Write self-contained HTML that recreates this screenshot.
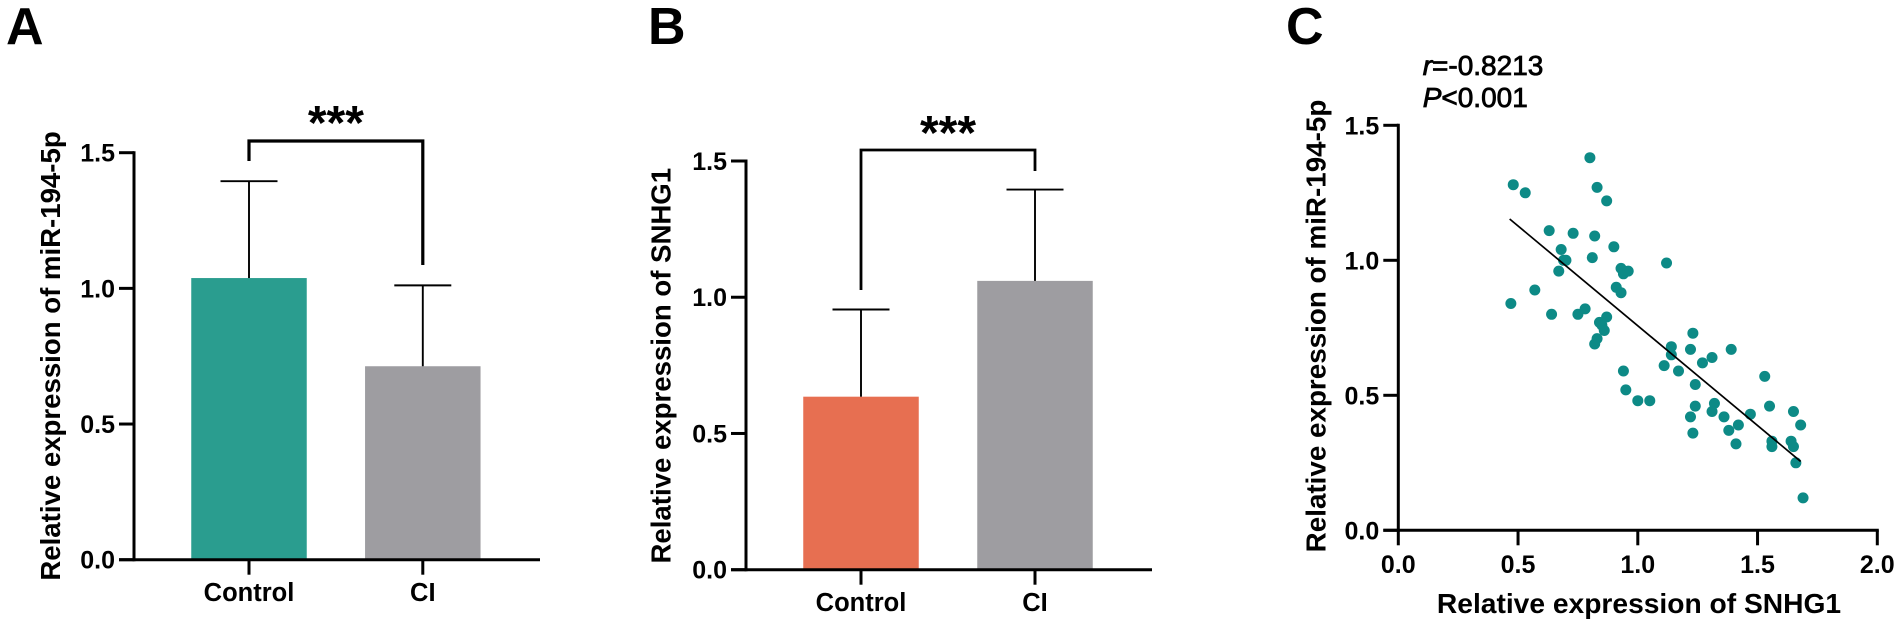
<!DOCTYPE html>
<html>
<head>
<meta charset="utf-8">
<title>Relative expression charts</title>
<style>
html,body{margin:0;padding:0;background:#fff;width:1901px;height:626px;overflow:hidden}
svg{display:block;font-family:"Liberation Sans",Arial,sans-serif}
text{fill:#000}
</style>
</head>
<body>
<svg id="fig" width="1901" height="626" viewBox="0 0 1901 626" xmlns="http://www.w3.org/2000/svg"></svg>
<script>
// Panel A
const categoriesA = ['Control', 'CI'];
const meansA = [1.038, 0.713];
const errorsA = [0.357, 0.298];
const yTicksA = ['0.0', '0.5', '1.0', '1.5'];
// Panel B
const categoriesB = ['Control', 'CI'];
const meansB = [0.635, 1.06];
const errorsB = [0.32, 0.335];
const yTicksB = ['0.0', '0.5', '1.0', '1.5'];
// Panel C
const xTicksC = ['0.0', '0.5', '1.0', '1.5', '2.0'];
const yTicksC = ['0.0', '0.5', '1.0', '1.5'];
const scatterX = [0.47,0.48,0.53,0.57,0.63,0.64,0.67,0.68,0.69,0.70,0.73,0.75,0.78,0.80,0.83,0.82,0.81,0.83,0.82,0.84,0.85,0.87,0.86,0.87,0.90,0.91,0.93,0.93,0.94,0.96,0.94,0.95,1.00,1.05,1.12,1.11,1.14,1.14,1.17,1.22,1.23,1.22,1.24,1.23,1.24,1.27,1.31,1.32,1.31,1.36,1.38,1.39,1.41,1.42,1.47,1.53,1.55,1.56,1.56,1.64,1.65,1.65,1.66,1.68,1.69];
const scatterY = [0.84,1.28,1.25,0.89,1.11,0.80,0.96,1.04,1.00,1.00,1.10,0.80,0.82,1.38,1.27,1.09,1.01,0.71,0.69,0.77,0.76,0.79,0.74,1.22,1.05,0.90,0.88,0.97,0.95,0.96,0.59,0.52,0.48,0.48,0.99,0.61,0.68,0.65,0.59,0.67,0.73,0.42,0.46,0.36,0.54,0.62,0.64,0.47,0.44,0.42,0.37,0.67,0.32,0.39,0.43,0.57,0.46,0.33,0.31,0.33,0.31,0.44,0.25,0.39,0.12];
const fitX = [0.465, 1.68];
const fitY = [1.153, 0.255];

const svg = document.getElementById('fig');
const NS = 'http://www.w3.org/2000/svg';

function make(tag, attrs, name, txt) {
  const el = document.createElementNS(NS, tag);
  for (const k in attrs) el.setAttribute(k, attrs[k]);
  
  
  if (txt !== undefined) el.textContent = txt;
  svg.appendChild(el);
  return el;
}
function line(x1, y1, x2, y2, w, name) {
  return make('line', {x1, y1, x2, y2, stroke: '#000', 'stroke-width': w}, name);
}
function label(x, y, s, size, anchor, name, extra) {
  return make('text', Object.assign({x, y, 'font-size': size, 'font-weight': 'bold', 'text-anchor': anchor}, extra || {}), name, s);
}
function yScale(y0, y15) { return v => y0 + (y15 - y0) * v / 1.5; }

function barPanel(cfg) {
  const y = yScale(cfg.y0, cfg.y15);
  const ax = cfg.axisX;
  // bars
  cfg.categories.forEach((c, i) => {
    const cx = cfg.centers[i];
    const key = c.toLowerCase();
    make('rect', {x: cx - cfg.barW / 2, y: y(cfg.means[i]), width: cfg.barW, height: cfg.y0 - y(cfg.means[i]), fill: cfg.colors[i]}, cfg.id + '-bar-' + key);
    const top = y(cfg.means[i] + cfg.errors[i]);
    line(cx, y(cfg.means[i]), cx, top, 1.9, cfg.id + '-error-stem-' + key);
    line(cx - 28.5, top, cx + 28.5, top, 1.9, cfg.id + '-error-cap-' + key);
    line(cx, cfg.y0, cx, cfg.y0 + 15, 3, cfg.id + '-x-tick-' + key);
    label(cx, cfg.catBase, c, 25.5, 'middle', cfg.id + '-x-label-' + key);
  });
  // axes
  line(ax, cfg.y15 - 1.5, ax, cfg.y0 + 1.5, 3, cfg.id + '-y-axis');
  line(ax - 15, cfg.y0, cfg.xEnd, cfg.y0, 3, cfg.id + '-x-axis');
  cfg.yTicks.forEach(t => {
    const yy = y(parseFloat(t));
    line(ax - 15, yy, ax, yy, 3, cfg.id + '-y-tick-' + t);
    label(ax - 19, yy + 9, t, 25, 'end', cfg.id + '-y-tick-label-' + t);
  });
  // bracket
  const b = cfg.bracket;
  make('polyline', {points: `${cfg.centers[0]},${b.left} ${cfg.centers[0]},${b.top} ${cfg.centers[1]},${b.top} ${cfg.centers[1]},${b.right}`, fill: 'none', stroke: '#000', 'stroke-width': b.w}, cfg.id + '-significance-bracket');
  label((cfg.centers[0] + cfg.centers[1]) / 2, b.starBase, '***', 48, 'middle', cfg.id + '-significance-stars');
  // y title
  label(0, 0, cfg.title, cfg.titleSize, 'middle', cfg.id + '-y-axis-title', {transform: `translate(${cfg.titleX},${cfg.titleY}) rotate(-90)`});
  // panel letter
  label(cfg.letterX, 44, cfg.letter, 52, 'start', cfg.id + '-panel-letter');
}

barPanel({
  id: 'a', letter: 'A', letterX: 6, axisX: 134, xEnd: 540, y0: 559.7, y15: 152.7,
  centers: [249, 422.8], barW: 115.5, colors: ['#2a9d8f', '#9e9da1'],
  categories: categoriesA, means: meansA, errors: errorsA, yTicks: yTicksA,
  catBase: 601, title: 'Relative expression of miR-194-5p', titleSize: 27.6, titleX: 60, titleY: 356,
  bracket: {left: 161, top: 141, right: 265, w: 3.2, starBase: 139}
});
barPanel({
  id: 'b', letter: 'B', letterX: 648, axisX: 746, xEnd: 1152, y0: 569.7, y15: 161,
  centers: [861, 1035], barW: 115.5, colors: ['#e76f51', '#9e9da1'],
  categories: categoriesB, means: meansB, errors: errorsB, yTicks: yTicksB,
  catBase: 611, title: 'Relative expression of SNHG1', titleSize: 27.6, titleX: 670.7, titleY: 365.7,
  bracket: {left: 290, top: 150, right: 171, w: 2.8, starBase: 149}
});

// Panel C scatter
const cx0 = 1398.3, cxUnit = 239.5, cy0 = 530.3, cy15 = 125.3;
const sx = v => cx0 + cxUnit * v;
const sy = yScale(cy0, cy15);
line(cx0, cy15 - 1.5, cx0, cy0 + 1.5, 3, 'c-y-axis');
line(cx0 - 15, cy0, sx(2) + 1.5, cy0, 3, 'c-x-axis');
yTicksC.forEach(t => {
  const yy = sy(parseFloat(t));
  line(cx0 - 15, yy, cx0, yy, 3, 'c-y-tick-' + t);
  label(cx0 - 19, yy + 9, t, 25, 'end', 'c-y-tick-label-' + t);
});
xTicksC.forEach(t => {
  const xx = sx(parseFloat(t));
  line(xx, cy0, xx, cy0 + 15, 3, 'c-x-tick-' + t);
  label(xx, 573, t, 25, 'middle', 'c-x-tick-label-' + t);
});
scatterX.forEach((v, i) => {
  make('circle', {cx: sx(v), cy: sy(scatterY[i]), r: 5.5, fill: '#0d8a86'}, 'c-point');
});
line(sx(fitX[0]), sy(fitY[0]), sx(fitX[1]), sy(fitY[1]), 1.7, 'c-regression-line');
label(0, 0, 'Relative expression of miR-194-5p', 27.8, 'middle', 'c-y-axis-title', {transform: 'translate(1325.7,326) rotate(-90)'});
label(1639, 613, 'Relative expression of SNHG1', 28.2, 'middle', 'c-x-axis-title');
label(1286, 44, 'C', 52, 'start', 'c-panel-letter');

const rTxt = make('text', {x: 1422.7, y: 75, 'font-size': 28, stroke: '#000', 'stroke-width': 0.8}, 'correlation-r-value');
rTxt.innerHTML = '<tspan font-style="italic">r</tspan>=-0.8213';
const pTxt = make('text', {x: 1422.7, y: 107, 'font-size': 28, stroke: '#000', 'stroke-width': 0.8}, 'correlation-p-value');
pTxt.innerHTML = '<tspan font-style="italic">P</tspan>&lt;0.001';
</script>
</body>
</html>
